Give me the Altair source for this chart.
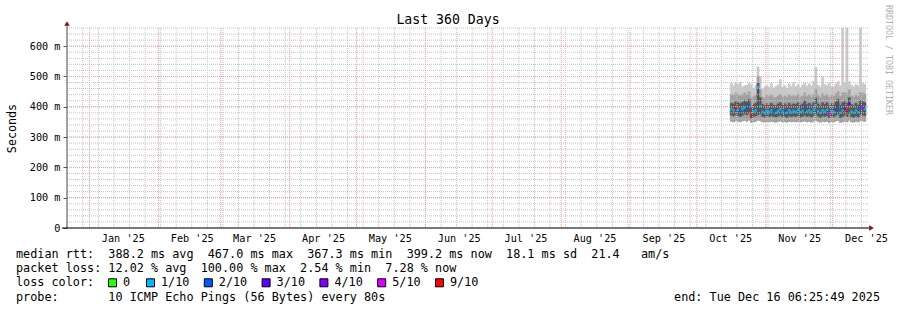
import altair as alt
import pandas as pd

# ---------------- data ----------------
title_text = "Last 360 Days"
y_title = "Seconds"
watermark = "RRDTOOL / TOBI OETIKER"

day_start = "2025-10-16"
n_days = 61

med = [392, 388, 395, 390, 386, 392, 398, 395, 405, 372,
       384, 388, 465, 402, 384, 380, 386, 382, 388, 384,
       380, 386, 392, 383, 386, 380, 388, 382, 386, 384,
       390, 382, 386, 400, 384, 388, 382, 390, 406, 386,
       380, 388, 384, 390, 378, 386, 382, 392, 400, 380,
       388, 394, 385, 410, 384, 380, 388, 382, 400, 396,
       392]
lo = [352, 350, 354, 352, 350, 353, 355, 352, 356, 348,
      350, 352, 356, 354, 350, 350, 351, 350, 352, 350,
      349, 351, 353, 350, 351, 349, 352, 350, 351, 350,
      352, 350, 351, 353, 350, 352, 349, 352, 355, 351,
      349, 352, 350, 352, 348, 351, 350, 353, 355, 348,
      350, 352, 350, 356, 350, 349, 352, 350, 354, 353,
      352]
p25 = [372, 370, 374, 371, 368, 372, 376, 373, 378, 362,
       368, 370, 374, 376, 368, 366, 369, 367, 370, 368,
       366, 369, 372, 367, 368, 365, 370, 367, 369, 368,
       371, 366, 368, 372, 368, 370, 366, 371, 376, 369,
       365, 370, 368, 371, 364, 369, 366, 372, 376, 364,
       368, 372, 368, 378, 367, 365, 370, 366, 374, 372,
       371]
p75 = [412, 410, 418, 414, 410, 415, 420, 416, 424, 400,
       408, 412, 478, 430, 408, 404, 410, 406, 412, 406,
       404, 410, 414, 406, 410, 404, 412, 406, 410, 408,
       414, 406, 410, 420, 408, 412, 406, 414, 428, 410,
       404, 414, 408, 414, 404, 410, 406, 416, 424, 406,
       414, 418, 412, 430, 408, 404, 412, 406, 420, 418,
       414]
p90 = [440, 438, 445, 440, 436, 442, 446, 440, 450, 430,
       434, 440, 500, 456, 432, 430, 438, 434, 440, 432,
       430, 436, 442, 432, 436, 430, 440, 434, 438, 434,
       442, 432, 436, 446, 434, 440, 432, 442, 458, 438,
       430, 444, 436, 442, 432, 438, 434, 444, 450, 434,
       446, 446, 444, 456, 436, 432, 440, 434, 448, 446,
       442]
hi = [478, 470, 480, 474, 482, 466, 470, 472, 478, 474,
      462, 470, 532, 500, 460, 466, 470, 464, 478, 462,
      468, 472, 490, 466, 470, 462, 476, 468, 480, 466,
      474, 464, 472, 478, 468, 476, 470, 484, 530, 472,
      466, 498, 474, 470, 478, 468, 466, 476, 484, 470,
      660, 480, 660, 484, 472, 466, 474, 470, 660, 478,
      474]
loss = ["1/10", "1/10", "9/10", "1/10", "2/10", "1/10", "1/10", "2/10", "2/10", "9/10",
        "1/10", "1/10", "1/10", "1/10", "1/10", "1/10", "1/10", "1/10", "1/10", "2/10",
        "1/10", "1/10", "1/10", "1/10", "2/10", "1/10", "1/10", "1/10", "1/10", "1/10",
        "1/10", "1/10", "1/10", "2/10", "1/10", "1/10", "1/10", "1/10", "1/10", "1/10",
        "1/10", "1/10", "1/10", "1/10", "5/10", "1/10", "1/10", "2/10", "2/10", "1/10",
        "1/10", "3/10", "9/10", "3/10", "1/10", "1/10", "1/10", "1/10", "2/10", "4/10",
        "1/10"]

loss_levels = ["0", "1/10", "2/10", "3/10", "4/10", "5/10", "9/10"]
loss_colors = ["#26ff00", "#00b8ff", "#0059ff", "#5e00ff", "#7e00ff", "#dd00ff", "#ff0000"]

y_major = [0, 100, 200, 300, 400, 500, 600]
y_minor = list(range(0, 661, 20))
month_starts = ["2025-%02d-01T00:00:00Z" % m for m in range(1, 13)]
week_lines = [d.strftime("%Y-%m-%dT00:00:00Z") for d in pd.date_range("2024-12-22", "2025-12-16", freq="7D")]
month_label_days = [16] * 12

legend_lines = [
    "median rtt:  388.2 ms avg  467.0 ms max  367.3 ms min  399.2 ms now  18.1 ms sd  21.4   am/s",
    "packet loss: 12.02 % avg  100.00 % max  2.54 % min  7.28 % now",
    "loss color:",
    "probe:       10 ICMP Echo Pings (56 Bytes) every 80s",
]
end_text = "end: Tue Dec 16 06:25:49 2025"

# ---------------- layout ----------------
W, H = 801, 200
PL, PT = 67, 28
FONT = "DejaVu Sans Mono"
NB = "\u00a0"

days = pd.date_range(day_start, periods=n_days, freq="D")
df = pd.DataFrame({
    "d": [t.strftime("%Y-%m-%dT00:00:00Z") for t in days],
    "d2": [(t + pd.Timedelta(days=1)).strftime("%Y-%m-%dT00:00:00Z") for t in days],
    "lo": lo, "p25": p25, "med": med, "p75": p75, "p90": p90, "hi": hi, "loss": loss,
})

xscale = alt.Scale(type="utc",
                   domain=[alt.DateTime(year=2024, month=12, date=21, hours=22, utc=True),
                           alt.DateTime(year=2025, month=12, date=16, hours=22, utc=True)])
yscale = alt.Scale(domain=[0, 660], nice=False, zero=True)

xaxis = alt.Axis(
    values=[alt.DateTime(year=2025, month=m, date=d, utc=True) for m, d in zip(range(1, 13), month_label_days)],
    labelExpr="utcFormat(datum.value, \"%b '%y\")", grid=False, ticks=False, domain=False,
    labelFont=FONT, labelFontSize=10.2, labelColor="#000000", labelPadding=13,
    labelBaseline="alphabetic", labelOverlap=False, labelFlush=False, labelBound=False, title=None,
)
yaxis = alt.Axis(
    values=y_major, labelExpr="datum.value == 0 ? '0' : datum.value + '\u00a0m'",
    grid=False, domain=False, ticks=True, tickSize=4, tickColor="#555555",
    labelFont=FONT, labelFontSize=10.2, labelColor="#000000", labelPadding=3,
    title=y_title, titleFont=FONT, titleFontSize=11.7, titleFontWeight="normal",
    titleColor="#000000", titleAngle=-90, titleX=-56, titleY=H / 2,
    titleAlign="center", titleBaseline="middle",
)

def X(f):
    return alt.X(f, type="temporal", scale=xscale, axis=xaxis)

def Y(f):
    return alt.Y(f, type="quantitative", scale=yscale, axis=yaxis)

base = alt.Chart(df)
light = base.mark_rect(color="#c8c8c8", stroke="#c8c8c8", strokeWidth=0.4).encode(
    x=X("d"), x2="d2", y=Y("lo"), y2="hi")
mid = base.mark_rect(color="#a0a0a0", stroke="#a0a0a0", strokeWidth=0.4).encode(
    x=X("d"), x2="d2", y=Y("lo"), y2="p90")
dark = base.mark_rect(color="#555555", stroke="#555555", strokeWidth=0.4).encode(
    x=X("d"), x2="d2", y=Y("p25"), y2="p75")
median = base.mark_rule(strokeWidth=2.4).encode(
    x=X("d"), x2="d2", y=Y("med"),
    color=alt.Color("loss:N", scale=alt.Scale(domain=loss_levels, range=loss_colors), legend=None))

hgrid_minor = alt.Chart(pd.DataFrame({"g": y_minor})).mark_rule(
    color="#c4c4c4", strokeDash=[1, 1], strokeWidth=1).encode(y=Y("g"))
hgrid_major = alt.Chart(pd.DataFrame({"g": y_major[1:]})).mark_rule(
    color="#f09c9c", strokeDash=[1, 1], strokeWidth=1).encode(y=Y("g"))
vgrid_minor = alt.Chart(pd.DataFrame({"w": week_lines})).mark_rule(
    color="#c4c4c4", strokeDash=[1, 1], strokeWidth=1).encode(x=X("w"))
vgrid_major = alt.Chart(pd.DataFrame({"w": month_starts})).mark_rule(
    color="#f09c9c", strokeDash=[1, 1], strokeWidth=1).encode(x=X("w"))

one = pd.DataFrame({"a": [0]})
yaxis_line = alt.Chart(one).mark_rule(color="#555555", strokeWidth=1).encode(
    x=alt.value(0), y=alt.value(-3), y2=alt.value(H))
xaxis_line = alt.Chart(one).mark_rule(color="#000000", strokeWidth=1).encode(
    x=alt.value(-5), x2=alt.value(W + 1), y=alt.value(H))
arrow_up = alt.Chart(one).mark_point(shape="triangle-up", filled=True, size=30,
                                     color="#8b1010", opacity=1).encode(
    x=alt.value(0), y=alt.value(-4.5))
arrow_right = alt.Chart(one).mark_point(shape="triangle-right", filled=True, size=30,
                                        color="#8b1010", opacity=1).encode(
    x=alt.value(W + 3.5), y=alt.value(H))

def txt(s, x, y, size=11.8, align="left", color="#000000", angle=0, baseline="alphabetic"):
    return alt.Chart(one).mark_text(text=s.replace(" ", NB), font=FONT, fontSize=size, align=align,
                                    baseline=baseline, color=color, angle=angle).encode(
        x=alt.value(x), y=alt.value(y))

texts = [txt(title_text, 448 - PL, 24 - PT, size=13.2, align="center"),
         txt(watermark, 888 - PL, 60 - PT, size=8.3, align="center", color="#b0b0b0",
             angle=90, baseline="middle")]
row_base = [258, 272.3, 286.4, 300.6]
for s, yb in zip(legend_lines, row_base):
    texts.append(txt(s, 16 - PL, yb - PT))
texts.append(txt(end_text, 880 - PL, row_base[3] - PT, align="right"))

# loss colour swatches
sw = []
xpos = 108.0
for lab, col in zip(loss_levels, loss_colors):
    sw.append(alt.Chart(one).mark_square(size=64, color=col, opacity=1, stroke="#000000",
                                         strokeWidth=1, filled=True).encode(
        x=alt.value(xpos + 4.5 - PL), y=alt.value(282.8 - PT)))
    sw.append(txt(lab, xpos + 15 - PL, row_base[2] - PT))
    xpos += 31.4 + 6.6 * len(lab)

chart = alt.layer(
    light, mid, dark,
    hgrid_minor, vgrid_minor, hgrid_major, vgrid_major,
    median,
    yaxis_line, xaxis_line, arrow_up, arrow_right,
    *texts, *sw,
).properties(
    width=W, height=H,
    autosize=alt.AutoSizeParams(type="none"),
    padding={"left": PL, "top": PT, "right": 897 - PL - W, "bottom": 310 - PT - H},
    background="#ffffff",
).configure_view(strokeWidth=0)

chart.save("out.html", embed_options={"renderer": "svg", "actions": False})
